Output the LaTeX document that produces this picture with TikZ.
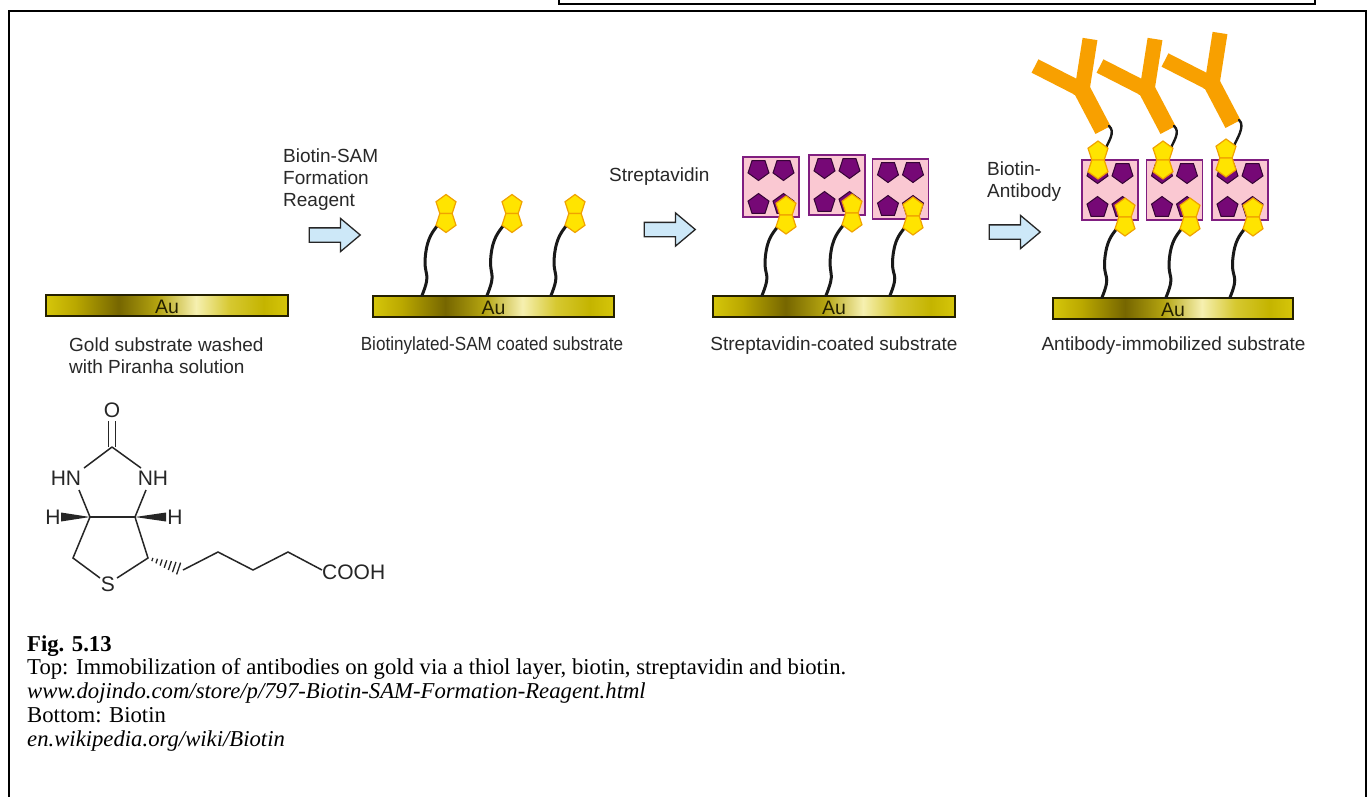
\documentclass[tikz,border=0pt]{standalone}
\usepackage{fontspec}
\setmainfont{Liberation Serif}
\newfontfamily\arial{Liberation Sans}
\usetikzlibrary{shapes.geometric,shapes.arrows,calc}

% colours
\definecolor{goldA}{RGB}{214,198,10}
\definecolor{goldB}{RGB}{186,168,0}
\definecolor{goldC}{RGB}{118,102,0}
\definecolor{goldD}{RGB}{180,164,16}
\definecolor{goldE}{RGB}{246,240,176}
\definecolor{goldF}{RGB}{214,200,48}
\definecolor{goldG}{RGB}{196,180,0}
\definecolor{goldedge}{RGB}{36,32,0}
\definecolor{biofill}{RGB}{255,228,0}
\definecolor{bioedge}{RGB}{240,162,0}
\definecolor{pocket}{RGB}{118,8,118}
\definecolor{boxfill}{RGB}{250,200,210}
\definecolor{boxedge}{RGB}{128,30,128}
\definecolor{abody}{RGB}{248,160,0}
\definecolor{arrowfill}{RGB}{205,232,248}
\definecolor{labeltext}{RGB}{40,40,40}

% metallic gold, left to right (the 25bp..75bp band spans the bar)
\pgfdeclarehorizontalshading{goldbar}{100bp}{%
  color(0bp)=(goldA); color(25bp)=(goldA); color(31bp)=(goldB);
  color(40bp)=(goldC); color(48bp)=(goldD); color(56bp)=(goldE);
  color(63bp)=(goldF); color(70bp)=(goldG); color(75bp)=(goldA);
  color(100bp)=(goldA)}

\tikzset{
  aubar/.style={shade, shading=goldbar, draw=goldedge, line width=2,
    minimum width=242, minimum height=21, inner sep=0, outer sep=0},
  aulbl/.style={font=\arial\fontsize{19.5}{19.5}\selectfont, text=goldedge, inner sep=0},
  biopent/.style={regular polygon, regular polygon sides=5, fill=biofill,
    draw=bioedge, line width=1.2, minimum size=21, inner sep=0, outer sep=0},
  pockpent/.style={regular polygon, regular polygon sides=5, fill=pocket,
    draw=pocket!45!black, line width=1, minimum size=22, inner sep=0, outer sep=0},
  strepbox/.style={draw=boxedge, fill=boxfill, line width=1.8,
    minimum width=56, minimum height=60, inner sep=0, outer sep=0},
  linker/.style={line width=3, line cap=round, black!90},
  blockarrow/.style={single arrow, draw=black!85, fill=arrowfill, line width=1.3,
    minimum height=51, inner xsep=0, inner ysep=6.5,
    single arrow head extend=9.5, single arrow tip angle=80},
  lbl/.style={font=\arial\fontsize{19}{22}\selectfont, text=labeltext, inner sep=0},
  abarm/.style={abody, line width=15},
  abstem/.style={abody, line width=17},
  bond/.style={line width=1.5, black!85},
  atom/.style={font=\arial\fontsize{21}{21}\selectfont, text=black!85, inner sep=0},
  captxt/.style={font=\fontsize{22.7}{24}\selectfont, inner sep=0, anchor=base west},
}

% biotin anchor points: centre of the shared edge, lower-left and upper-right corners
\newcommand\biotinpts[3]{%
  \coordinate (#1) at (#2,#3);
  \coordinate (#1-ll) at (#2-7,#3+10);
  \coordinate (#1-ur) at (#2+7,#3-10);
}
% biotin: two pentagons sharing one edge, centred on that edge
\newcommand\biotinat[3]{%
  \biotinpts{#1}{#2}{#3}
  \node[biopent] at (#2,#3-8.5) {};
  \node[biopent, shape border rotate=180] at (#2,#3+8.5) {};
}
% streptavidin: pink square with four pentagonal pockets
\newcommand\strepunit[3]{%
  \node[strepbox] (#1) at (#2,#3) {};
  \node[pockpent, shape border rotate=180] at ($(#1.north west)+(15.5,12.5)$) {};
  \node[pockpent, shape border rotate=180] at ($(#1.north west)+(40.5,12.5)$) {};
  \node[pockpent] at ($(#1.south west)+(15.5,-12.5)$) {};
  \node[pockpent] at ($(#1.south west)+(40.5,-12.5)$) {};
}
% antibody: orange Y, tilted, given by its fork point
\newcommand\antibody[3]{%
  \coordinate (#1) at (#2,#3);
  \draw[abarm] ($(#1)+(4.5,2.3)$) -- ($(#1)+(-47,-24)$);
  \draw[abarm] ($(#1)+(-0.9,5.9)$) -- ($(#1)+(8,-51)$);
  \draw[abstem] ($(#1)+(-2.8,-5.3)$) -- ($(#1)+(21,40)$);
  \coordinate (#1-end) at ($(#1)+(27,36)$);
}
% wavy thiol linker from the gold surface up to a biotin
\newcommand\thiol[2]{%
  \draw[linker] (#1) .. controls +(10,-25) and +(-2,22) ..
    ($(#1)!0.55!(#2)+(-6,0)$) .. controls +(2,-18) and +(-7,9) .. (#2);
}

\begin{document}
\begin{tikzpicture}[x=1pt,y=-1pt]
\useasboundingbox (0,0) rectangle (1372,796);
\fill[white] (0,0) rectangle (1372,796);

% frames
\draw[line width=2.2] (9,810) -- (9,11) -- (1366,11) -- (1366,810);
\draw[line width=1.6] (559,-6) -- (559,4) -- (1315,4) -- (1315,-6);

% ---------- step 1: bare gold ----------
\node[aubar] (bar1) at (167,305.5) {};
\node[aulbl, anchor=base] (au1) at ($(bar1.south)+(0,-2.5)$) {Au};
\node[lbl, anchor=base west, align=left] (t1) at (69,373)
  {Gold substrate washed\\with Piranha solution};

% arrow 1
\node[lbl, anchor=base west, align=left] (r1) at (283,206)
  {Biotin-SAM\\Formation\\Reagent};
\node[blockarrow] (a1) at (330.5,235) {};

% ---------- step 2: biotinylated SAM ----------
\node[aubar, minimum width=241] (bar2) at (493.5,306) {};
\node[aulbl, anchor=base] (au2) at ($(bar2.south)+(0,-2.5)$) {Au};
\coordinate (l2a) at ($(bar2.north west)+(49,0)$);
\coordinate (l2b) at ($(bar2.north west)+(114,0)$);
\coordinate (l2c) at ($(bar2.north west)+(178,0)$);
\biotinpts{b2a}{446}{213.5}
\biotinpts{b2b}{512}{213.5}
\biotinpts{b2c}{575}{213.5}
\thiol{l2a}{b2a-ll}
\thiol{l2b}{b2b-ll}
\thiol{l2c}{b2c-ll}
\biotinat{b2a}{446}{213.5}
\biotinat{b2b}{512}{213.5}
\biotinat{b2c}{575}{213.5}
\node[lbl, anchor=base] (t2) at (492,350) {\scalebox{0.9}[1]{Biotinylated-SAM coated substrate}};

% arrow 2
\node[lbl, anchor=base west] (r2) at (609,181) {Streptavidin};
\node[blockarrow] (a2) at (665.5,229.5) {};

% ---------- step 3: streptavidin ----------
\node[aubar] (bar3) at (834,306) {};
\node[aulbl, anchor=base] (au3) at ($(bar3.south)+(0,-2.5)$) {Au};
\strepunit{s3a}{771}{187}
\strepunit{s3b}{837}{185}
\strepunit{s3c}{900.5}{189}
\coordinate (l3a) at ($(bar3.north west)+(49,0)$);
\coordinate (l3b) at ($(bar3.north west)+(113,0)$);
\coordinate (l3c) at ($(bar3.north west)+(177,0)$);
\biotinpts{b3a}{786}{215}
\biotinpts{b3b}{852}{213}
\biotinpts{b3c}{913}{216}
\thiol{l3a}{b3a-ll}
\thiol{l3b}{b3b-ll}
\thiol{l3c}{b3c-ll}
\biotinat{b3a}{786}{215}
\biotinat{b3b}{852}{213}
\biotinat{b3c}{913}{216}
\node[lbl, anchor=base] (t3) at (834,350) {Streptavidin-coated substrate};

% arrow 3
\node[lbl, anchor=base west, align=left] (r3) at (987,197) {Biotin-\\Antibody};
\node[blockarrow] (a3) at (1010.5,232) {};

% ---------- step 4: antibody ----------
\node[aubar, minimum width=240] (bar4) at (1173,308) {};
\node[aulbl, anchor=base] (au4) at ($(bar4.south)+(0,-2.5)$) {Au};
\strepunit{s4a}{1110}{190}
\strepunit{s4b}{1174.5}{190}
\strepunit{s4c}{1240}{190}
\coordinate (l4a) at ($(bar4.north west)+(49,0)$);
\coordinate (l4b) at ($(bar4.north west)+(113,0)$);
\coordinate (l4c) at ($(bar4.north west)+(177,0)$);
\biotinpts{b4a}{1125}{217}
\biotinpts{b4b}{1190}{217}
\biotinpts{b4c}{1253}{217}
\thiol{l4a}{b4a-ll}
\thiol{l4b}{b4b-ll}
\thiol{l4c}{b4c-ll}
\biotinat{b4a}{1125}{217}
\biotinat{b4b}{1190}{217}
\biotinat{b4c}{1253}{217}
\antibody{y1}{1082}{90}
\antibody{y2}{1147}{90}
\antibody{y3}{1212}{84}
\biotinpts{b4d}{1098}{160}
\biotinpts{b4e}{1163}{160}
\biotinpts{b4f}{1226}{158}
\draw[linker, line width=2.4] (y1-end) .. controls +(7,6) and +(3,-8) .. (b4d-ur);
\draw[linker, line width=2.4] (y2-end) .. controls +(7,6) and +(3,-8) .. (b4e-ur);
\draw[linker, line width=2.4] (y3-end) .. controls +(7,6) and +(3,-8) .. (b4f-ur);
\biotinat{b4d}{1098}{160}
\biotinat{b4e}{1163}{160}
\biotinat{b4f}{1226}{158}
\node[lbl, anchor=base] (t4) at (1173.5,350) {Antibody-immobilized substrate};

% ---------- biotin structural formula ----------
\node[atom] (O) at (112,410) {O};
\node[atom] (HN) at (66,478) {HN};
\node[atom] (NH) at (153,478) {NH};
\node[atom] (Hl) at (53,517) {H};
\node[atom] (Hr) at (175,517) {H};
\node[atom] (S) at (108,584) {S};
\node[atom, anchor=west] (COOH) at (322,572) {COOH};
\coordinate (c2) at (112,447);
\coordinate (c3a) at (90,517);
\coordinate (c6a) at (135,517);
\coordinate (c4) at (73,558);
\coordinate (c5) at (148,558);
\coordinate (z1) at (183,570);
\coordinate (z2) at (218,552);
\coordinate (z3) at (253,570);
\coordinate (z4) at (288,552);
\coordinate (z5) at (322,570);
\draw[bond] (108.5,421) -- (108.5,447);
\draw[bond] (115.5,421) -- (115.5,447);
\draw[bond] (c2) -- (84,468);
\draw[bond] (c2) -- (141,468);
\draw[bond] (79,490) -- (c3a);
\draw[bond] (146,490) -- (c6a);
\draw[bond] (c3a) -- (c6a);
\fill[black!85] (c3a) -- (61,512.5) -- (61,521.5) -- cycle;
\fill[black!85] (c6a) -- (166,512.5) -- (166,521.5) -- cycle;
\draw[bond] (c3a) -- (c4) -- (100,578);
\draw[bond] (117,578) -- (c5) -- (c6a);
\foreach \t in {1,...,7}{
  \draw[line width=1.3, black!85]
    ($(c5)!\t/8!(z1)+(-0.324*\t*0.75-0.3,0.946*\t*0.75+0.9)$) --
    ($(c5)!\t/8!(z1)-(-0.324*\t*0.75-0.3,0.946*\t*0.75+0.9)$);
}
\draw[bond, line join=miter] (z1) -- (z2) -- (z3) -- (z4) -- (z5);

% ---------- caption ----------
\node[captxt, font=\bfseries\fontsize{22.7}{24}\selectfont] (fig) at (27,651) {Fig. 5.13};
\node[captxt] (c1) at (27,674) {Top: Immobilization of antibodies on gold via a thiol layer, biotin, streptavidin and biotin.};
\node[captxt, font=\itshape\fontsize{22.7}{24}\selectfont] (c2t) at (27,698) {www.dojindo.com/store/p/797-Biotin-SAM-Formation-Reagent.html};
\node[captxt] (c3) at (27,722) {Bottom: Biotin};
\node[captxt, font=\itshape\fontsize{22.7}{24}\selectfont] (c4t) at (27,746) {en.wikipedia.org/wiki/Biotin};
\end{tikzpicture}
\end{document}
